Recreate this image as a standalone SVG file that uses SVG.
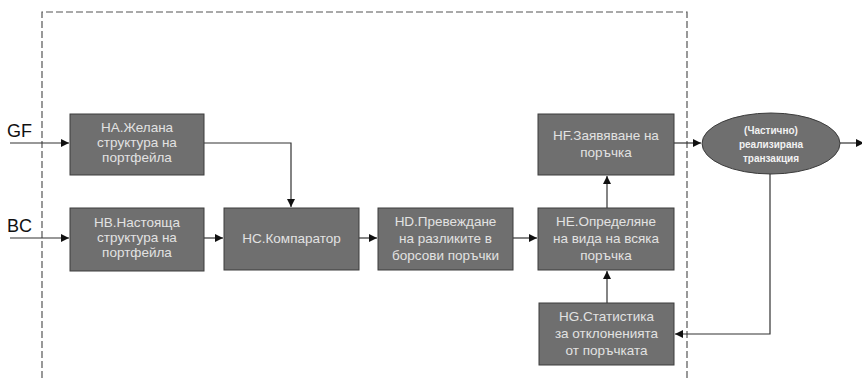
<svg xmlns="http://www.w3.org/2000/svg" width="862" height="378" viewBox="0 0 862 378">
<defs>
<style>
.box{fill:#6f6f6f;stroke:#3c3c3c;stroke-width:1}
.t{font-family:"Liberation Sans",Arial,sans-serif;font-size:13.5px;fill:#e2e2e2;text-anchor:middle}
.et{font-family:"Liberation Sans",Arial,sans-serif;font-size:10px;font-weight:bold;fill:#f2f2f2;text-anchor:middle}
.lbl{font-family:"Liberation Sans",Arial,sans-serif;font-size:18px;fill:#111}
.c{fill:none;stroke:#333;stroke-width:1.2}
</style>
<marker id="ah" viewBox="0 0 10 10" refX="10" refY="5" markerWidth="8" markerHeight="8" markerUnits="userSpaceOnUse" orient="auto">
<path d="M0,0 L10,5 L0,10 z" fill="#111"/>
</marker>
</defs>
<rect width="862" height="378" fill="#fff"/>
<path d="M687,378 L687,12 L42,12 L42,378" fill="none" stroke="#555" stroke-width="1.2" stroke-dasharray="7,3"/>
<g id="connectors">
<path class="c" d="M10,143 L69,143" marker-end="url(#ah)"/>
<path class="c" d="M10,238 L69,238" marker-end="url(#ah)"/>
<path class="c" d="M204,143 L291,143 L291,207" marker-end="url(#ah)"/>
<path class="c" d="M204,238 L223,238" marker-end="url(#ah)"/>
<path class="c" d="M359,238 L377,238" marker-end="url(#ah)"/>
<path class="c" d="M513,238 L537,238" marker-end="url(#ah)"/>
<path class="c" d="M607,208 L607,176" marker-end="url(#ah)"/>
<path class="c" d="M607,303 L607,271" marker-end="url(#ah)"/>
<path class="c" d="M674,143 L701,143" marker-end="url(#ah)"/>
<path class="c" d="M840,143 L864,143" marker-end="url(#ah)"/>
<path class="c" d="M770,174 L770,334 L675,334" marker-end="url(#ah)"/>
</g>
<g id="GF"><text class="lbl" x="7" y="137">GF</text></g>
<g id="BC"><text class="lbl" x="7" y="232">BC</text></g>
<g id="HA">
<rect class="box" x="70" y="114" width="134" height="61"/>
<text class="t" x="137" y="132">HA.Желана</text>
<text class="t" x="137" y="147">структура на</text>
<text class="t" x="137" y="162">портфейла</text>
</g>
<g id="HB">
<rect class="box" x="70" y="208" width="134" height="63"/>
<text class="t" x="137" y="227">HB.Настояща</text>
<text class="t" x="137" y="242">структура на</text>
<text class="t" x="137" y="257">портфейла</text>
</g>
<g id="HC">
<rect class="box" x="224" y="208" width="135" height="62"/>
<text class="t" x="291.5" y="243">HC.Компаратор</text>
</g>
<g id="HD">
<rect class="box" x="378" y="208" width="135" height="62"/>
<text class="t" x="445.5" y="226">HD.Превеждане</text>
<text class="t" x="445.5" y="243">на разликите в</text>
<text class="t" x="445.5" y="260">борсови поръчки</text>
</g>
<g id="HE">
<rect class="box" x="538" y="208" width="136" height="62"/>
<text class="t" x="606" y="226">HE.Определяне</text>
<text class="t" x="606" y="243">на вида на всяка</text>
<text class="t" x="606" y="260">поръчка</text>
</g>
<g id="HF">
<rect class="box" x="538" y="114" width="136" height="61"/>
<text class="t" x="606" y="140">HF.Заявяване на</text>
<text class="t" x="606" y="157">поръчка</text>
</g>
<g id="HG">
<rect class="box" x="539" y="303" width="135" height="62"/>
<text class="t" x="606.5" y="321">HG.Статистика</text>
<text class="t" x="606.5" y="338">за отклоненията</text>
<text class="t" x="606.5" y="355">от поръчката</text>
</g>
<g id="ellipse">
<ellipse cx="771" cy="143.5" rx="69" ry="30.5" fill="#6f6f6f" stroke="#3c3c3c" stroke-width="1"/>
<text class="et" x="771" y="134">(Частично)</text>
<text class="et" x="771" y="148">реализирана</text>
<text class="et" x="771" y="162">транзакция</text>
</g>
</svg>
